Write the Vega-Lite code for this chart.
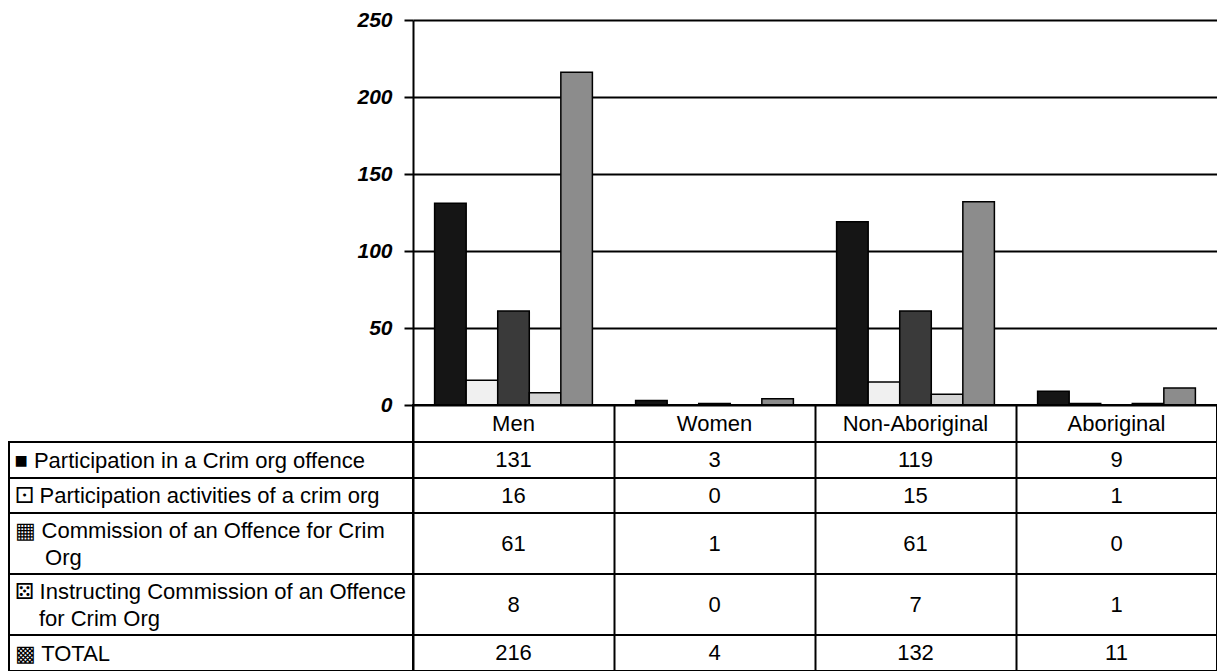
{
  "$schema": "https://vega.github.io/schema/vega-lite/v6.json",
  "padding": {"left": 8, "top": 9, "right": 0, "bottom": 0},
  "background": "white",
  "config": {"view": {"stroke": null}, "font": "Liberation Sans"},
  "datasets": {
    "d": [
      {"category": "Men", "series": "Participation in a Crim org offence", "value": 131},
      {"category": "Men", "series": "Participation activities of a crim org", "value": 16},
      {"category": "Men", "series": "Commission of an Offence for Crim Org", "value": 61},
      {"category": "Men", "series": "Instructing Commission of an Offence for Crim Org", "value": 8},
      {"category": "Men", "series": "TOTAL", "value": 216},
      {"category": "Women", "series": "Participation in a Crim org offence", "value": 3},
      {"category": "Women", "series": "Participation activities of a crim org", "value": 0},
      {"category": "Women", "series": "Commission of an Offence for Crim Org", "value": 1},
      {"category": "Women", "series": "Instructing Commission of an Offence for Crim Org", "value": 0},
      {"category": "Women", "series": "TOTAL", "value": 4},
      {"category": "Non-Aboriginal", "series": "Participation in a Crim org offence", "value": 119},
      {"category": "Non-Aboriginal", "series": "Participation activities of a crim org", "value": 15},
      {"category": "Non-Aboriginal", "series": "Commission of an Offence for Crim Org", "value": 61},
      {"category": "Non-Aboriginal", "series": "Instructing Commission of an Offence for Crim Org", "value": 7},
      {"category": "Non-Aboriginal", "series": "TOTAL", "value": 132},
      {"category": "Aboriginal", "series": "Participation in a Crim org offence", "value": 9},
      {"category": "Aboriginal", "series": "Participation activities of a crim org", "value": 1},
      {"category": "Aboriginal", "series": "Commission of an Offence for Crim Org", "value": 0},
      {"category": "Aboriginal", "series": "Instructing Commission of an Offence for Crim Org", "value": 1},
      {"category": "Aboriginal", "series": "TOTAL", "value": 11}
    ]
  },
  "columns": 2,
  "spacing": 0,
  "bounds": "flush",
  "concat": [
    {
      "width": 404, "height": 385,
      "data": {"values": [{"k": 1}]},
      "mark": {"type": "text", "text": ""},
      "encoding": {}
    },
    {
      "width": 804, "height": 385,
      "data": {"name": "d"},
      "mark": {"type": "bar", "stroke": "black", "strokeWidth": 1.5},
      "encoding": {
        "x": {"field": "category", "type": "nominal", "sort": ["Men", "Women", "Non-Aboriginal", "Aboriginal"], "scale": {"paddingInner": 0.215, "paddingOuter": 0.1075}, "axis": null},
        "xOffset": {"field": "series", "type": "nominal", "sort": ["Participation in a Crim org offence", "Participation activities of a crim org", "Commission of an Offence for Crim Org", "Instructing Commission of an Offence for Crim Org", "TOTAL"], "scale": {"paddingInner": 0, "paddingOuter": 0}},
        "y": {"field": "value", "type": "quantitative", "scale": {"domain": [0, 250], "nice": false},
          "axis": {"values": [0, 50, 100, 150, 200, 250], "title": null, "grid": true, "gridColor": "black", "gridWidth": 2, "gridOpacity": 1, "domainColor": "black", "domainWidth": 2, "tickColor": "black", "tickWidth": 2, "tickSize": 9, "labelPadding": 12, "labelFont": "Liberation Sans", "labelFontSize": 21, "labelFontWeight": "bold", "labelFontStyle": "italic", "labelColor": "black"}},
        "color": {"field": "series", "type": "nominal", "scale": {"domain": ["Participation in a Crim org offence", "Participation activities of a crim org", "Commission of an Offence for Crim Org", "Instructing Commission of an Offence for Crim Org", "TOTAL"], "range": ["#151515", "#f0f0f0", "#3a3a3a", "#d4d4d4", "#8c8c8c"]}, "legend": null}
      }
    },
    {
      "width": 404, "height": 37,
      "data": {"values": [{"k": 1}]},
      "mark": {"type": "text", "text": ""},
      "encoding": {}
    },
    {
      "width": 804, "height": 37,
      "view": {"stroke": "black", "strokeWidth": 2},
      "data": {"name": "d"},
      "transform": [{"filter": "datum.series == 'TOTAL'"}],
      "mark": {"type": "text", "fontSize": 22, "font": "Liberation Sans", "color": "black"},
      "encoding": {
        "x": {"field": "category", "type": "nominal", "sort": ["Men", "Women", "Non-Aboriginal", "Aboriginal"], "scale": {"paddingInner": 0, "paddingOuter": 0}, "axis": {"labels": false, "ticks": false, "domain": false, "grid": true, "tickBand": "extent", "gridColor": "black", "gridWidth": 2, "gridOpacity": 1, "title": null}},
        "text": {"field": "category", "type": "nominal"}
      }
    },
    {
      "width": 404, "height": 36,
      "view": {"stroke": "black", "strokeWidth": 2},
      "data": {"name": "d"},
      "transform": [{"filter": "datum.series == 'Participation in a Crim org offence'"}],
      "mark": {"type": "text", "text": ""},
      "encoding": {
        "y": {"field": "series", "type": "nominal", "scale": {"paddingInner": 0, "paddingOuter": 0},
          "axis": {"title": null, "ticks": false, "domain": false, "grid": false, "labelAlign": "left", "labelBaseline": "middle", "labelPadding": -5, "labelLimit": 0, "labelFont": "Liberation Sans", "labelFontSize": 22, "labelColor": "black", "labelExpr": "'■ ' + datum.value"}}
      }
    },
    {
      "width": 804, "height": 36,
      "view": {"stroke": "black", "strokeWidth": 2},
      "data": {"name": "d"},
      "transform": [{"filter": "datum.series == 'Participation in a Crim org offence'"}],
      "mark": {"type": "text", "fontSize": 22, "font": "Liberation Sans", "color": "black"},
      "encoding": {
        "x": {"field": "category", "type": "nominal", "sort": ["Men", "Women", "Non-Aboriginal", "Aboriginal"], "scale": {"paddingInner": 0, "paddingOuter": 0}, "axis": {"labels": false, "ticks": false, "domain": false, "grid": true, "tickBand": "extent", "gridColor": "black", "gridWidth": 2, "gridOpacity": 1, "title": null}},
        "y": {"field": "series", "type": "nominal", "bandPosition": 0.5, "scale": {"paddingInner": 0, "paddingOuter": 0}, "axis": null},
        "text": {"field": "value", "type": "quantitative"}
      }
    },
    {
      "width": 404, "height": 35,
      "view": {"stroke": "black", "strokeWidth": 2},
      "data": {"name": "d"},
      "transform": [{"filter": "datum.series == 'Participation activities of a crim org'"}],
      "mark": {"type": "text", "text": ""},
      "encoding": {
        "y": {"field": "series", "type": "nominal", "scale": {"paddingInner": 0, "paddingOuter": 0},
          "axis": {"title": null, "ticks": false, "domain": false, "grid": false, "labelAlign": "left", "labelBaseline": "middle", "labelPadding": -5, "labelLimit": 0, "labelFont": "Liberation Sans", "labelFontSize": 22, "labelColor": "black", "labelExpr": "'⚀ ' + datum.value"}}
      }
    },
    {
      "width": 804, "height": 35,
      "view": {"stroke": "black", "strokeWidth": 2},
      "data": {"name": "d"},
      "transform": [{"filter": "datum.series == 'Participation activities of a crim org'"}],
      "mark": {"type": "text", "fontSize": 22, "font": "Liberation Sans", "color": "black"},
      "encoding": {
        "x": {"field": "category", "type": "nominal", "sort": ["Men", "Women", "Non-Aboriginal", "Aboriginal"], "scale": {"paddingInner": 0, "paddingOuter": 0}, "axis": {"labels": false, "ticks": false, "domain": false, "grid": true, "tickBand": "extent", "gridColor": "black", "gridWidth": 2, "gridOpacity": 1, "title": null}},
        "y": {"field": "series", "type": "nominal", "bandPosition": 0.5, "scale": {"paddingInner": 0, "paddingOuter": 0}, "axis": null},
        "text": {"field": "value", "type": "quantitative"}
      }
    },
    {
      "width": 404, "height": 61,
      "view": {"stroke": "black", "strokeWidth": 2},
      "data": {"name": "d"},
      "transform": [{"filter": "datum.series == 'Commission of an Offence for Crim Org'"}],
      "mark": {"type": "text", "text": ""},
      "encoding": {
        "y": {"field": "series", "type": "nominal", "scale": {"paddingInner": 0, "paddingOuter": 0},
          "axis": {"title": null, "ticks": false, "domain": false, "grid": false, "labelAlign": "left", "labelBaseline": "middle", "labelOffset": -13, "labelPadding": -5, "labelLimit": 0, "labelLineHeight": 27, "labelFont": "Liberation Sans", "labelFontSize": 22, "labelColor": "black", "labelExpr": "['▦ ' + slice(datum.value, 0, 33), '\u200b\u00a0\u00a0\u00a0\u00a0\u00a0' + slice(datum.value, 34)]"}}
      }
    },
    {
      "width": 804, "height": 61,
      "view": {"stroke": "black", "strokeWidth": 2},
      "data": {"name": "d"},
      "transform": [{"filter": "datum.series == 'Commission of an Offence for Crim Org'"}],
      "mark": {"type": "text", "fontSize": 22, "font": "Liberation Sans", "color": "black"},
      "encoding": {
        "x": {"field": "category", "type": "nominal", "sort": ["Men", "Women", "Non-Aboriginal", "Aboriginal"], "scale": {"paddingInner": 0, "paddingOuter": 0}, "axis": {"labels": false, "ticks": false, "domain": false, "grid": true, "tickBand": "extent", "gridColor": "black", "gridWidth": 2, "gridOpacity": 1, "title": null}},
        "y": {"field": "series", "type": "nominal", "bandPosition": 0.29, "scale": {"paddingInner": 0, "paddingOuter": 0}, "axis": null},
        "text": {"field": "value", "type": "quantitative"}
      }
    },
    {
      "width": 404, "height": 61,
      "view": {"stroke": "black", "strokeWidth": 2},
      "data": {"name": "d"},
      "transform": [{"filter": "datum.series == 'Instructing Commission of an Offence for Crim Org'"}],
      "mark": {"type": "text", "text": ""},
      "encoding": {
        "y": {"field": "series", "type": "nominal", "scale": {"paddingInner": 0, "paddingOuter": 0},
          "axis": {"title": null, "ticks": false, "domain": false, "grid": false, "labelAlign": "left", "labelBaseline": "middle", "labelOffset": -13, "labelPadding": -5, "labelLimit": 0, "labelLineHeight": 27, "labelFont": "Liberation Sans", "labelFontSize": 22, "labelColor": "black", "labelExpr": "['⚄ ' + slice(datum.value, 0, 36), '\u200b\u00a0\u00a0\u00a0\u00a0' + slice(datum.value, 37)]"}}
      }
    },
    {
      "width": 804, "height": 61,
      "view": {"stroke": "black", "strokeWidth": 2},
      "data": {"name": "d"},
      "transform": [{"filter": "datum.series == 'Instructing Commission of an Offence for Crim Org'"}],
      "mark": {"type": "text", "fontSize": 22, "font": "Liberation Sans", "color": "black"},
      "encoding": {
        "x": {"field": "category", "type": "nominal", "sort": ["Men", "Women", "Non-Aboriginal", "Aboriginal"], "scale": {"paddingInner": 0, "paddingOuter": 0}, "axis": {"labels": false, "ticks": false, "domain": false, "grid": true, "tickBand": "extent", "gridColor": "black", "gridWidth": 2, "gridOpacity": 1, "title": null}},
        "y": {"field": "series", "type": "nominal", "bandPosition": 0.28, "scale": {"paddingInner": 0, "paddingOuter": 0}, "axis": null},
        "text": {"field": "value", "type": "quantitative"}
      }
    },
    {
      "width": 404, "height": 36,
      "view": {"stroke": "black", "strokeWidth": 2},
      "data": {"name": "d"},
      "transform": [{"filter": "datum.series == 'TOTAL'"}],
      "mark": {"type": "text", "text": ""},
      "encoding": {
        "y": {"field": "series", "type": "nominal", "scale": {"paddingInner": 0, "paddingOuter": 0},
          "axis": {"title": null, "ticks": false, "domain": false, "grid": false, "labelAlign": "left", "labelBaseline": "middle", "labelPadding": -5, "labelLimit": 0, "labelFont": "Liberation Sans", "labelFontSize": 22, "labelColor": "black", "labelExpr": "'▩ ' + datum.value"}}
      }
    },
    {
      "width": 804, "height": 36,
      "view": {"stroke": "black", "strokeWidth": 2},
      "data": {"name": "d"},
      "transform": [{"filter": "datum.series == 'TOTAL'"}],
      "mark": {"type": "text", "fontSize": 22, "font": "Liberation Sans", "color": "black"},
      "encoding": {
        "x": {"field": "category", "type": "nominal", "sort": ["Men", "Women", "Non-Aboriginal", "Aboriginal"], "scale": {"paddingInner": 0, "paddingOuter": 0}, "axis": {"labels": false, "ticks": false, "domain": false, "grid": true, "tickBand": "extent", "gridColor": "black", "gridWidth": 2, "gridOpacity": 1, "title": null}},
        "y": {"field": "series", "type": "nominal", "bandPosition": 0.5, "scale": {"paddingInner": 0, "paddingOuter": 0}, "axis": null},
        "text": {"field": "value", "type": "quantitative"}
      }
    }
  ]
}
